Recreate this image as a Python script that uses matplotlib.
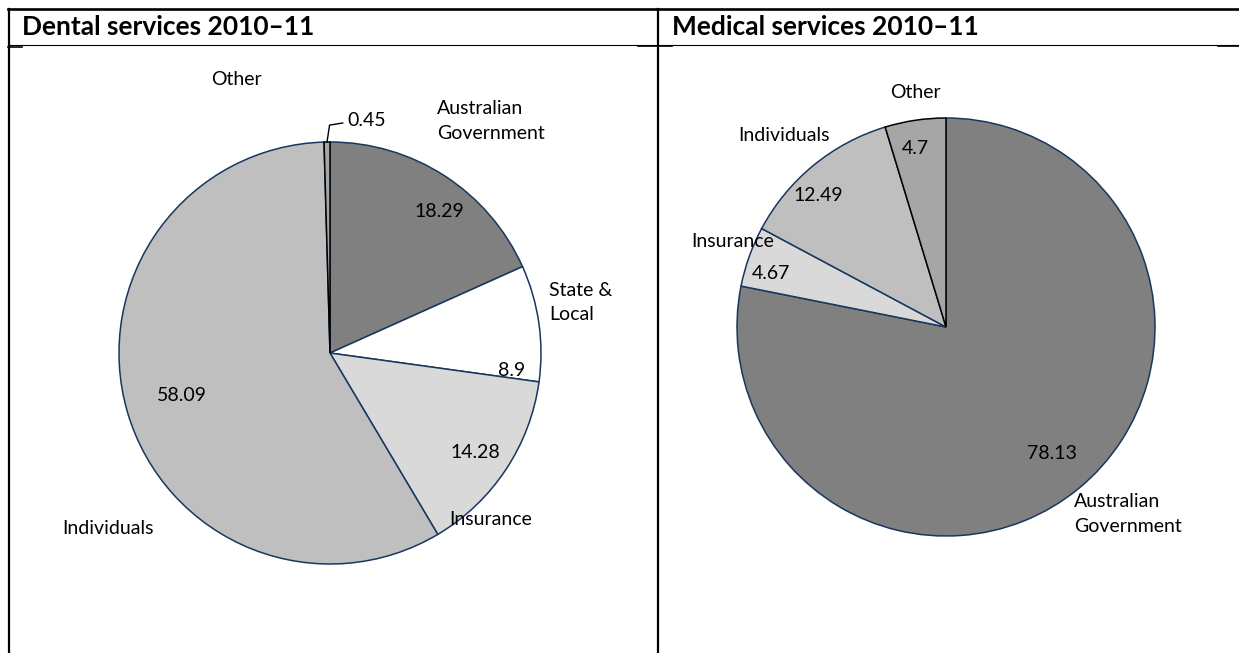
import numpy as np
import matplotlib
matplotlib.use('Agg')
import matplotlib.pyplot as plt

plt.rcParams['font.family'] = ['Lato', 'DejaVu Sans']

# данные
dental_labels = ['Australian\nGovernment', 'State &\nLocal', 'Insurance', 'Individuals', 'Other']
dental_values = [18.29, 8.9, 14.28, 58.09, 0.45]
dental_colors = ['#808080', '#ffffff', '#d9d9d9', '#bfbfbf', '#a6a6a6']

medical_labels = ['Australian\nGovernment', 'Insurance', 'Individuals', 'Other']
medical_values = [78.13, 4.67, 12.49, 4.7]
medical_colors = ['#808080', '#d9d9d9', '#bfbfbf', '#a6a6a6']

W, H = 1239, 653
FS = 14
fig = plt.figure(figsize=(W / 100, H / 100), dpi=100)

# рамка таблицы
frame = fig.add_axes([0, 0, 1, 1])
frame.set_xlim(0, W)
frame.set_ylim(H, 0)
frame.axis('off')
frame.plot([8, W], [9, 9], color='black', lw=1.9)
frame.plot([9, 9], [9, H], color='black', lw=1.6)
frame.plot([658, 658], [9, H], color='black', lw=1.6)
frame.plot([8, W], [45, 45], color='black', lw=0.8)
frame.plot([8, 22], [46.5, 46.5], color='black', lw=1.2)
frame.plot([638, 672], [46, 46], color='black', lw=1.2)
frame.plot([1218, W], [46, 46], color='black', lw=1.2)
frame.text(22, 27, 'Dental services 2010\u201311', fontsize=19, fontweight='bold', va='center')
frame.text(672, 27, 'Medical services 2010\u201311', fontsize=19, fontweight='bold', va='center')

EDGE = '#17375e'
SPAN = 1.5


def pie_axes(cx, cy, r):
    size = 2 * SPAN * r
    ax = fig.add_axes([(cx - size / 2) / W, (H - cy - size / 2) / H, size / W, size / H])
    return ax


def draw_pie(ax, values, colors):
    wedges, _ = ax.pie(values, colors=colors, startangle=90, counterclock=False, radius=1,
                       wedgeprops={'edgecolor': EDGE, 'linewidth': 1.1})
    wedges[-1].set_edgecolor('black')
    ax.set_xlim(-SPAN, SPAN)
    ax.set_ylim(-SPAN, SPAN)
    ax.set_aspect('equal')
    ax.axis('off')
    return wedges


# стоматология
ax1 = pie_axes(330, 353, 211)
w1 = draw_pie(ax1, dental_values, dental_colors)
val_pos1 = [(0.52, 0.67), (0.86, -0.085), (0.69, -0.47), (-0.70, -0.20)]
for (x, y), v in zip(val_pos1, dental_values[:4]):
    ax1.text(x, y, f'{v:g}', ha='center', va='center', fontsize=FS)
name_pos1 = [(0.507, 1.10), (1.04, 0.24), (0.564, -0.787), (-1.27, -0.83), (-0.564, 1.294)]
for (x, y), lab in zip(name_pos1, dental_labels):
    ax1.text(x, y, lab, ha='left', va='center', fontsize=FS, linespacing=1.55, clip_on=False)
# выноска для маленького сектора
mid = np.deg2rad((w1[-1].theta1 + w1[-1].theta2) / 2)
x0, y0 = np.cos(mid), np.sin(mid)
ax1.plot([x0, x0 + 0.012, 0.06], [y0, 1.08, 1.09], color='black', lw=1.0, clip_on=False)
ax1.text(0.08, 1.10, f'{dental_values[-1]:g}', ha='left', va='center', fontsize=FS)

# медицина
ax2 = pie_axes(946, 327, 209)
w2 = draw_pie(ax2, medical_values, medical_colors)
val_pos2 = [(0.507, -0.603), (-0.837, 0.258), (-0.612, 0.627), (-0.148, 0.856)]
for (x, y), v in zip(val_pos2, medical_values):
    ax2.text(x, y, f'{v:g}', ha='center', va='center', fontsize=FS)
name_pos2 = [(0.613, -0.895), (-1.22, 0.41), (-0.995, 0.914), (-0.268, 1.124)]
for (x, y), lab in zip(name_pos2, medical_labels):
    ax2.text(x, y, lab, ha='left', va='center', fontsize=FS, linespacing=1.55, clip_on=False)

fig.savefig('out.png', dpi=100)
